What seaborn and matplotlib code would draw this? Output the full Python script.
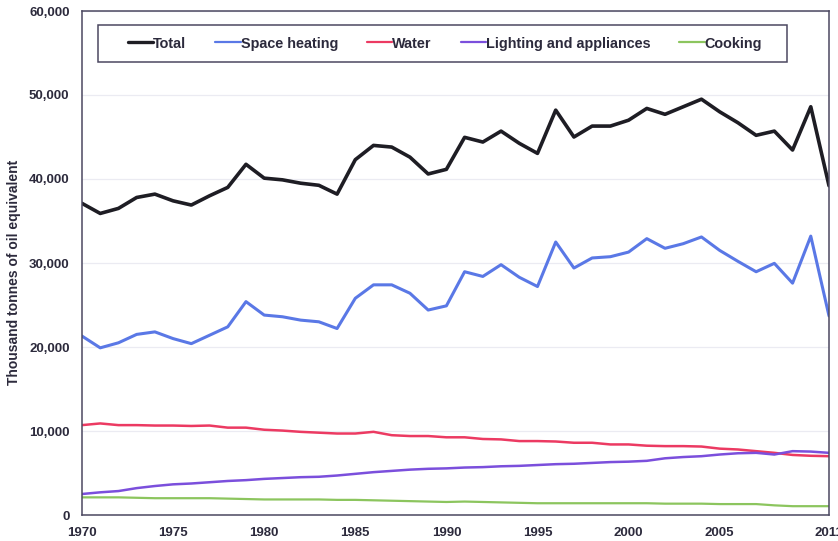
import matplotlib
matplotlib.use('Agg')
import matplotlib.pyplot as plt
import matplotlib.ticker as mticker
from matplotlib.patches import Rectangle
import pandas as pd
import seaborn as sns

years = list(range(1970, 2012))

total = [37.1, 35.9, 36.5, 37.8, 38.2, 37.4, 36.9, 38.0, 39.0, 41.75,
         40.1, 39.9, 39.5, 39.25, 38.2, 42.3, 44.0, 43.8, 42.6, 40.6,
         41.15, 44.96, 44.4, 45.7, 44.25, 43.05, 48.2, 45.0, 46.3, 46.3,
         47.0, 48.4, 47.7, 48.6, 49.5, 48.0, 46.7, 45.2, 45.7, 43.45,
         48.6, 39.2]
space_heating = [21.3, 19.9, 20.5, 21.5, 21.8, 21.0, 20.4, 21.4, 22.4, 25.4,
                 23.8, 23.6, 23.2, 23.0, 22.2, 25.8, 27.4, 27.4, 26.4, 24.4,
                 24.9, 28.96, 28.4, 29.8, 28.3, 27.2, 32.5, 29.4, 30.6, 30.75,
                 31.3, 32.9, 31.75, 32.3, 33.1, 31.5, 30.2, 28.96, 29.96, 27.6,
                 33.2, 23.7]
water = [10.7, 10.9, 10.7, 10.7, 10.65, 10.65, 10.6, 10.65, 10.4, 10.4,
         10.15, 10.05, 9.9, 9.8, 9.7, 9.7, 9.9, 9.5, 9.4, 9.4,
         9.25, 9.25, 9.05, 9.0, 8.8, 8.8, 8.75, 8.6, 8.6, 8.4,
         8.4, 8.25, 8.2, 8.2, 8.15, 7.9, 7.8, 7.6, 7.4, 7.15,
         7.05, 7.0]
lighting = [2.5, 2.7, 2.85, 3.2, 3.45, 3.65, 3.75, 3.9, 4.05, 4.15,
            4.3, 4.4, 4.5, 4.55, 4.7, 4.9, 5.1, 5.25, 5.4, 5.5,
            5.55, 5.65, 5.7, 5.8, 5.85, 5.95, 6.05, 6.1, 6.2, 6.3,
            6.35, 6.45, 6.75, 6.9, 7.0, 7.2, 7.35, 7.4, 7.2, 7.6,
            7.55, 7.4]
cooking = [2.1, 2.1, 2.1, 2.05, 2.0, 2.0, 2.0, 2.0, 1.95, 1.9,
           1.85, 1.85, 1.85, 1.85, 1.8, 1.8, 1.75, 1.7, 1.65, 1.6,
           1.55, 1.6, 1.55, 1.5, 1.45, 1.4, 1.4, 1.4, 1.4, 1.4,
           1.4, 1.4, 1.35, 1.35, 1.35, 1.3, 1.3, 1.3, 1.15, 1.05,
           1.05, 1.05]

series_names = ['Total', 'Space heating', 'Water', 'Lighting and appliances', 'Cooking']
series_values = [total, space_heating, water, lighting, cooking]
colors = ['#1e1d24', '#5a78e6', '#ec3a62', '#7b4fdc', '#8cc55e']
widths = [2.6, 2.2, 1.8, 1.8, 1.6]

x_tick_pos = [1970, 1975, 1980, 1985, 1990, 1995, 2000, 2005, 2011]
x_tick_labels = ['1970', '1975', '1980', '1985', '1990', '1995', '2000', '2005', '2011']

frames = []
for name, vals in zip(series_names, series_values):
    frames.append(pd.DataFrame({'Year': years,
                                'Value': [v * 1000 for v in vals],
                                'Series': name}))
df = pd.concat(frames, ignore_index=True)

sns.set_theme(style='white')
text_color = '#2c2a3c'
edge_color = '#4b4860'
plt.rcParams['font.family'] = ['Liberation Sans', 'DejaVu Sans']
plt.rcParams['font.weight'] = 'bold'

fig = plt.figure(figsize=(8.38, 5.41), dpi=100, facecolor='white')
ax = fig.add_axes([82 / 838, 26 / 541, 747 / 838, 504 / 541])

for name, color, lw in zip(series_names, colors, widths):
    sns.lineplot(data=df[df['Series'] == name], x='Year', y='Value',
                 color=color, linewidth=lw, label=name, ax=ax)

ax.set_xlim(1970, 2011)
ax.set_ylim(0, 60000)
ax.yaxis.set_major_locator(mticker.MultipleLocator(10000))
ax.yaxis.set_major_formatter(mticker.StrMethodFormatter('{x:,.0f}'))
ax.set_xticks(x_tick_pos)
ax.set_xticklabels(x_tick_labels)
ax.xaxis.set_minor_locator(mticker.MultipleLocator(1))

ax.grid(axis='y', color='#ebebf2', linewidth=0.9)
for sp in ax.spines.values():
    sp.set_visible(True)
    sp.set_color(edge_color)
    sp.set_linewidth(1.1)

ax.tick_params(axis='both', which='both', direction='out', colors=edge_color,
               labelcolor=text_color, labelsize=9.5, width=1.1)
ax.tick_params(axis='x', which='both', length=4, pad=5)
ax.tick_params(axis='y', which='major', length=5, pad=4)
for lab in ax.get_xticklabels() + ax.get_yticklabels():
    lab.set_fontweight('bold')

ax.set_xlabel('')
ax.set_ylabel('Thousand tonnes of oil equivalent', fontsize=10,
              fontweight='bold', color=text_color)
ax.yaxis.set_label_coords(-0.081, 0.481)

# legend box drawn as a plain rectangle, entries without their own frame
box = Rectangle((16 / 747, (515 - 62) / 504), 689 / 747, 37 / 504,
                transform=ax.transAxes, facecolor='white',
                edgecolor=edge_color, linewidth=1.1, zorder=4)
ax.add_patch(box)
leg = ax.legend(loc='center', bbox_to_anchor=(0.486, 0.9355), ncol=5,
                frameon=False, handlelength=1.75, handletextpad=0.0,
                columnspacing=2.0, borderpad=0.0, borderaxespad=0.0,
                prop={'size': 10.4, 'weight': 'bold'})
leg.set_zorder(5)
for line in leg.get_lines():
    line.set_linewidth(1.6)
leg.get_lines()[0].set_linewidth(2.4)
for t in leg.get_texts():
    t.set_color(text_color)

fig.savefig('out.png', dpi=100)
